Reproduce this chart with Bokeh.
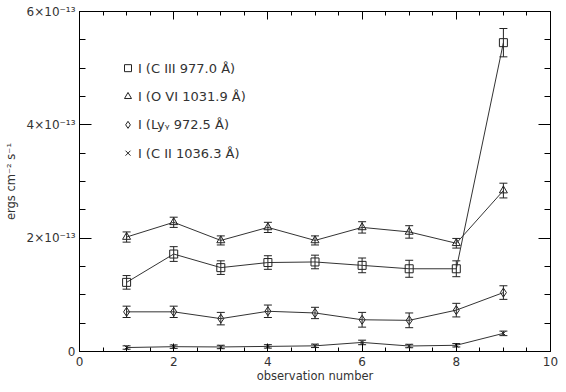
from bokeh.plotting import figure
from bokeh.models import (ColumnDataSource, Whisker, LinearAxis, Range1d, FixedTicker, TeeHead,
                          CustomLabelingPolicy)
from bokeh.core.properties import value
from bokeh.embed import file_html
from bokeh.resources import INLINE

# values in units of 1e-13 ergs cm^-2 s^-1
obs = [1, 2, 3, 4, 5, 6, 7, 8, 9]
c3 = [1.22, 1.72, 1.48, 1.57, 1.58, 1.52, 1.46, 1.46, 5.45]
c3_err = [0.12, 0.13, 0.12, 0.12, 0.12, 0.13, 0.15, 0.14, 0.25]
o6 = [2.02, 2.28, 1.96, 2.19, 1.96, 2.19, 2.11, 1.91, 2.84]
o6_err = [0.09, 0.09, 0.08, 0.09, 0.08, 0.10, 0.11, 0.085, 0.13]
lyg = [0.70, 0.70, 0.58, 0.71, 0.68, 0.56, 0.55, 0.73, 1.04]
lyg_err = [0.10, 0.10, 0.11, 0.11, 0.10, 0.13, 0.13, 0.12, 0.12]
c2 = [0.07, 0.085, 0.08, 0.09, 0.10, 0.16, 0.097, 0.11, 0.32]
c2_err = [0.03, 0.03, 0.03, 0.03, 0.03, 0.04, 0.03, 0.03, 0.04]

legend_labels = ["I (C III 977.0 Å)", "I (O VI 1031.9 Å)",
                 "I (Lyᵧ 972.5 Å)", "I (C II 1036.3 Å)"]
legend_y = [5.0, 4.5, 4.0, 3.5]
legend_x = 1.03
legend_text_x = 1.24

x_major = [0, 2, 4, 6, 8, 10]
x_minor = [i * 0.5 for i in range(21)]
y_major = [0, 2, 4, 6]
y_minor = [i * 0.5 for i in range(13)]
y_labels = {0: "0", 2: "2×10⁻¹³", 4: "4×10⁻¹³", 6: "6×10⁻¹³"}
x_title = "observation number"
y_title = "ergs cm⁻² s⁻¹"

FONT = "DejaVu Sans"
TXT = "#333333"
LINE = "#333333"
INK = "#222222"

p = figure(frame_width=471, frame_height=340, output_backend="svg", toolbar_location=None,
           x_range=Range1d(0, 10), y_range=Range1d(0, 6),
           min_border_left=74, min_border_right=0, min_border_top=2, min_border_bottom=0,
           x_axis_label=x_title, y_axis_label=y_title)
p.xgrid.visible = False
p.ygrid.visible = False
p.outline_line_color = None
p.background_fill_color = "white"
p.border_fill_color = "white"

xt = FixedTicker(ticks=x_major, minor_ticks=x_minor)
yt = FixedTicker(ticks=y_major, minor_ticks=y_minor)

xa = p.xaxis[0]
xa.ticker = xt
xa.major_tick_in = 8
xa.major_tick_out = 0
xa.minor_tick_in = 4
xa.minor_tick_out = 0
xa.major_label_standoff = 5
xa.axis_label_standoff = 0

ya = p.yaxis[0]
ya.ticker = yt
ya.major_tick_in = 12
ya.major_tick_out = 0
ya.minor_tick_in = 6
ya.minor_tick_out = 0
ya.major_label_standoff = 4
ya.axis_label_standoff = 6
ya.major_label_overrides = y_labels

for ax in [xa, ya]:
    ax.axis_line_color = "black"
    ax.major_tick_line_color = "black"
    ax.minor_tick_line_color = "black"
    ax.major_label_text_font = FONT
    ax.major_label_text_font_size = "12px"
    ax.major_label_text_color = TXT
    ax.axis_label_text_font = FONT
    ax.axis_label_text_font_size = "11.5px"
    ax.axis_label_text_font_style = "normal"
    ax.axis_label_text_color = TXT

hide = "for (const i of Array.from(indices)) { indices.unset(i) } return indices"
top = LinearAxis(ticker=xt, major_tick_in=8, major_tick_out=0, minor_tick_in=4, minor_tick_out=0,
                 major_label_policy=CustomLabelingPolicy(code=hide), major_label_standoff=0,
                 axis_line_color="black")
right = LinearAxis(ticker=yt, major_tick_in=12, major_tick_out=0, minor_tick_in=6, minor_tick_out=0,
                   major_label_policy=CustomLabelingPolicy(code=hide), major_label_standoff=0,
                   axis_line_color="black")
p.add_layout(top, "above")
p.add_layout(right, "right")

series = [(c3, c3_err, "square", 8), (o6, o6_err, "triangle", 8),
          (lyg, lyg_err, "diamond", 9), (c2, c2_err, "x", 6)]

for vals, errs, mk, sz in series:
    src = ColumnDataSource(dict(x=obs, y=vals,
                                upper=[v + e for v, e in zip(vals, errs)],
                                lower=[v - e for v, e in zip(vals, errs)]))
    p.line("x", "y", source=src, line_color=LINE, line_width=1)
    p.add_layout(Whisker(base="x", upper="upper", lower="lower", source=src,
                         line_color=INK, line_width=1,
                         upper_head=TeeHead(size=8, line_color=INK, line_width=1),
                         lower_head=TeeHead(size=8, line_color=INK, line_width=1)))
    p.scatter("x", "y", source=src, marker=mk, size=sz, fill_alpha=0,
              line_color=INK, line_width=1)

# legend
leg_src = ColumnDataSource(dict(x=[legend_x] * 4, y=legend_y,
                                tx=[legend_text_x] * 4, label=legend_labels,
                                marker=["square", "triangle", "diamond", "x"]))
p.scatter("x", "y", source=leg_src, marker="marker", size=7, fill_alpha=0,
          line_color=INK, line_width=1)
p.text("tx", "y", text="label", source=leg_src, text_font=value(FONT),
       text_font_size="13px", text_baseline="middle", text_color=TXT)

open("out.html", "w").write(file_html(p, INLINE))
